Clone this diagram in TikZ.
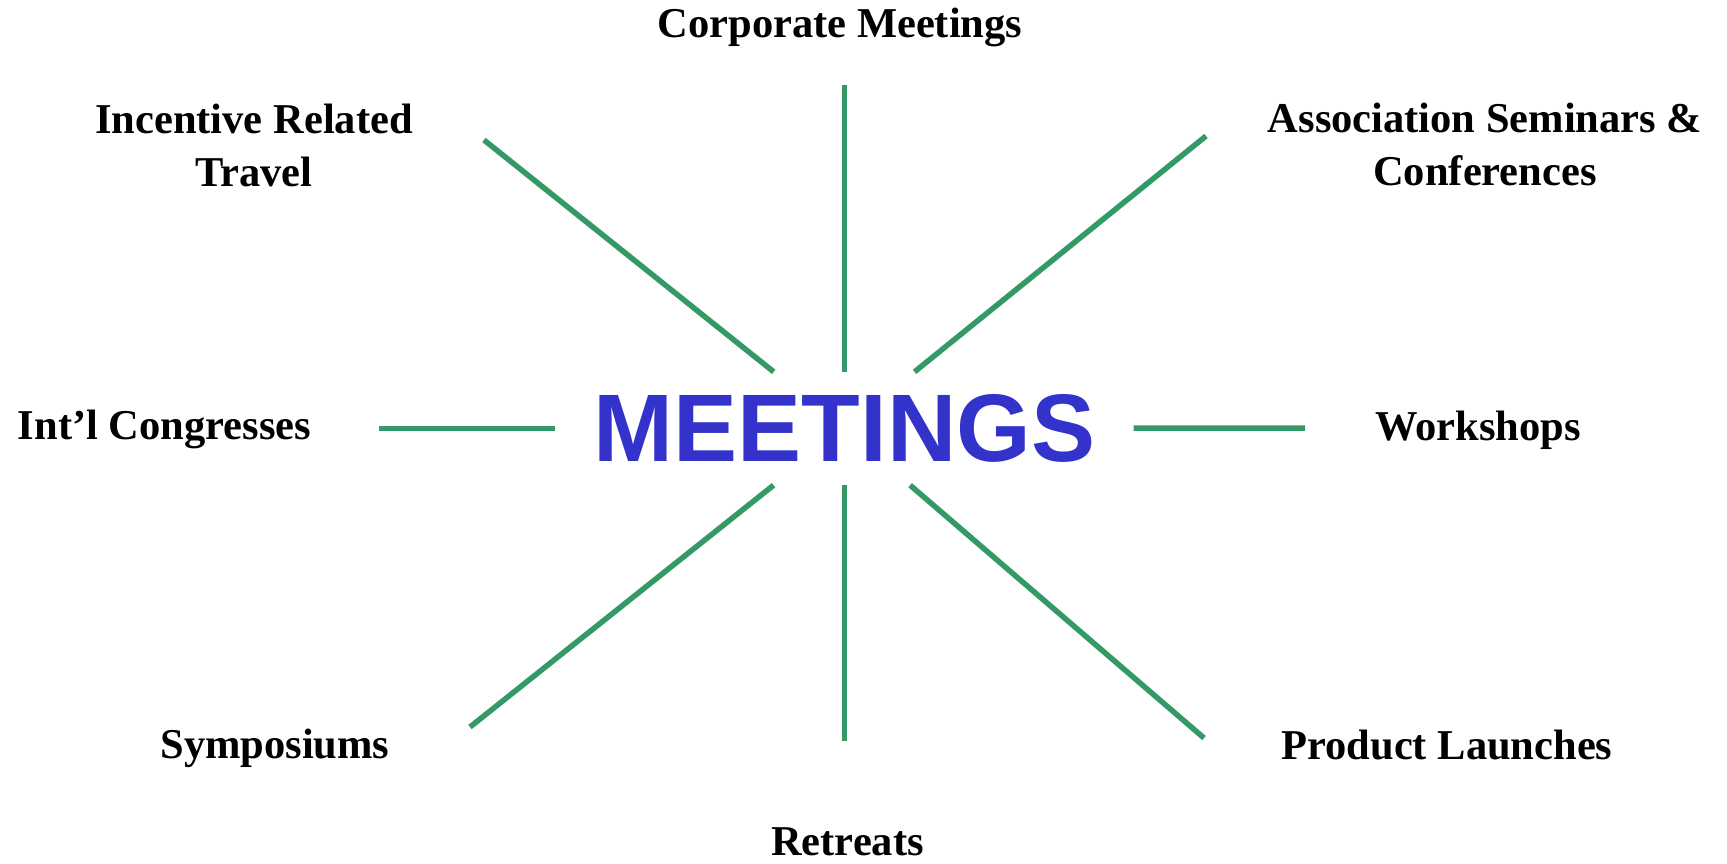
\documentclass[tikz,border=0pt]{standalone}
\usepackage{fontspec}
\setmainfont{Liberation Serif}
\newfontfamily\meetfont{Liberation Sans}
\definecolor{lineGreen}{RGB}{51,153,102}
\definecolor{titleBlue}{RGB}{51,51,204}
\begin{document}
\begin{tikzpicture}[x=1pt,y=-1pt,
  lbl/.style={font=\fontsize{42.5}{53}\selectfont\bfseries, inner sep=0pt, align=center, anchor=base},
  spoke/.style={draw=lineGreen, line width=5.5pt},
  hub/.style={font=\meetfont\fontsize{96}{96}\selectfont\bfseries, text=titleBlue, rectangle,
              minimum width=578pt, minimum height=113pt, inner sep=0pt}]
\useasboundingbox (0,0) rectangle (1727,863);
\node[hub] (M) at (844.5,428.5) {MEETINGS};
\coordinate (pT) at (844.5,85);
\coordinate (pB) at (844.5,741);
\coordinate (pL) at (379,428.5);
\coordinate (pR) at (1305,428);
\coordinate (pTL) at (484,140);
\coordinate (pTR) at (1206,136);
\coordinate (pBL) at (470,727);
\coordinate (pBR) at (1204,738);
\foreach \p in {pT,pB,pL,pR,pTL,pTR,pBL,pBR} \draw[spoke] (M) -- (\p);
\node[lbl] (corp) at (840,37) {Corporate Meetings};
\node[lbl] (inc) at (254,186) {Incentive Related\\Travel};
\node[lbl] (assoc) at (1485,185) {Association Seminars \&\\Conferences};
\node[lbl] (intl) at (164.5,439) {Int’l Congresses};
\node[lbl] (work) at (1478,440) {Workshops};
\node[lbl] (symp) at (275,758) {Symposiums};
\node[lbl] (prod) at (1447,759) {Product Launches};
\node[lbl] (retr) at (847.5,855) {Retreats};
\end{tikzpicture}
\end{document}
